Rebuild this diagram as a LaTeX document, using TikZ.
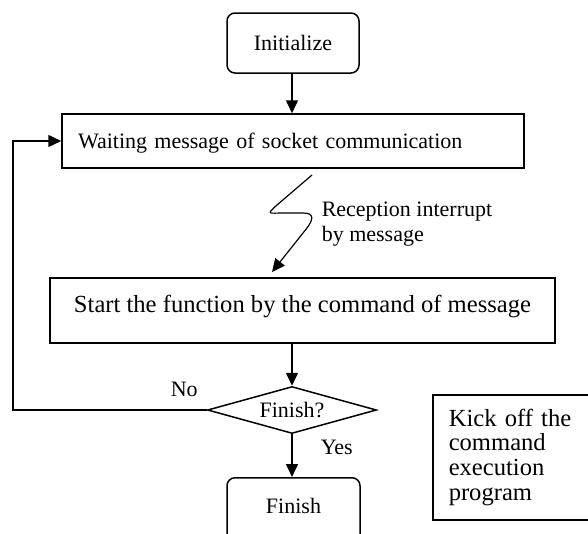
\documentclass[tikz,border=0pt]{standalone}
\usepackage{fontspec}
\setmainfont{Liberation Serif}
\usetikzlibrary{shapes.geometric,arrows.meta}
\begin{document}
\begin{tikzpicture}[x=1pt,y=-1pt,
  line width=1.5pt,
  txt/.style={font=\fontsize{22}{25}\selectfont},
  big/.style={font=\fontsize{24.6}{24.7}\selectfont},
  box/.style={draw,rectangle,inner sep=0pt},
  rbox/.style={draw,rectangle,rounded corners=8pt,inner sep=0pt},
  arr/.style={-{Triangle[length=13pt,width=12pt]}},
]
\useasboundingbox (0,0) rectangle (588,533);
\node[rbox,txt,minimum width=132pt,minimum height=60pt] (init) at (293,43) {Initialize};
\node[box,txt,minimum width=462pt,minimum height=54pt,text width=430pt,inner xsep=16pt,align=left,text height=16pt,text depth=2pt] (wait) at (293,141) {Waiting message of socket communication};
\node[box,big,minimum width=505pt,minimum height=65pt,text height=30pt,text depth=27pt] (start) at (302.5,310.5) {Start the function by the command of message};
\node[draw,diamond,aspect=3.6,inner sep=0pt,minimum width=169pt,minimum height=47pt,txt] (dia) at (292,410) {Finish?};
\node[rbox,txt,minimum width=133pt,minimum height=72pt,text height=12pt,text depth=12pt,anchor=north] (fin) at (293.5,477) {Finish};
\node[box,big,anchor=north west,minimum width=172pt,minimum height=125pt,text width=140pt,inner xsep=16pt,align=left] (kick) at (432,394) {Kick off the\\command\\execution\\program};
\node[txt,anchor=west,inner sep=0pt,align=left] (lbl) at (321,224.5) {Reception interrupt\\by message};
\node[txt,anchor=base west,inner sep=0pt] (no) at (170,396) {No};
\node[txt,anchor=base west,inner sep=0pt] (yes) at (320,454) {Yes};
% connectors
\draw[arr] (init.south -| 292,0) -- (wait.north -| 292,0);
\draw[arr] (start.south -| dia.north) -- (dia.north);
\draw[arr] (dia.south) -- (dia.south |- fin.north);
\draw[arr] (dia.west) -- ++(-194,0) |- (wait.west);
\coordinate (zs) at (312,175);
\coordinate (zt) at (272,272);
\draw[arr,line width=1.2pt] (zs) -- (277,205) .. controls (266,215) and (268,213) .. (285,213) -- (303,213) .. controls (315,213) and (313,220) .. (307,228) -- (zt);
\end{tikzpicture}
\end{document}
